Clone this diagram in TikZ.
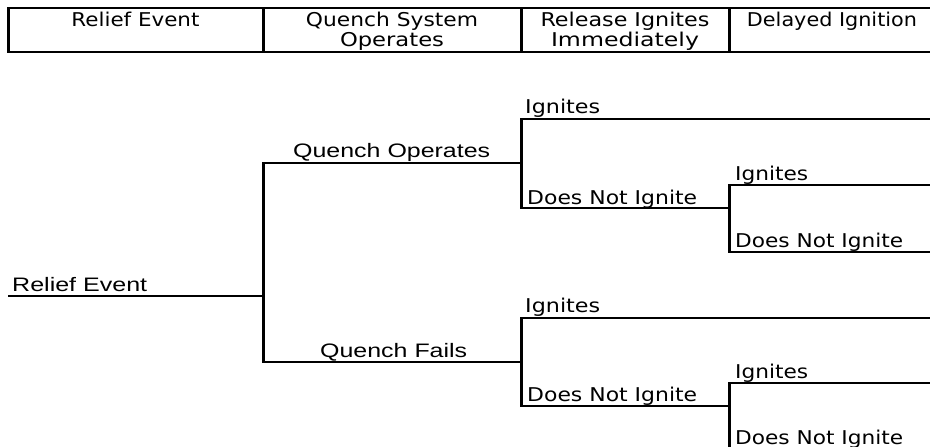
\documentclass[tikz,border=0pt]{standalone}
\usepackage{fontspec}
\setmainfont{Liberation Sans}
\newfontfamily\dvfont{DejaVu Sans}
\newcommand\tw[2]{\resizebox{#1}{\height}{#2}}
\begin{document}
\begin{tikzpicture}[x=1pt,y=-1pt,
  hl/.style={line width=2pt,line cap=rect},
  vl/.style={line width=3pt},
  hdr/.style={inner sep=0pt,anchor=base,font=\dvfont\fontsize{19}{22}\selectfont},
  lbA/.style={inner sep=0pt,anchor=base west,font=\fontsize{19.5}{22}\selectfont},
  lbV/.style={inner sep=0pt,anchor=base west,font=\dvfont\fontsize{19}{22}\selectfont}]
\useasboundingbox (0,0) rectangle (930,447);
\clip (0,0) rectangle (930,447);
% header table
\coordinate (t0) at (8,8);   \coordinate (b0) at (8,52);
\coordinate (t1) at (263,8); \coordinate (b1) at (263,52);
\coordinate (t2) at (521,8); \coordinate (b2) at (521,52);
\coordinate (t3) at (729,8); \coordinate (b3) at (729,52);
\coordinate (tE) at (930,8); \coordinate (bE) at (930,52);
\draw[hl] (t0) -- (tE);
\draw[hl] (b0) -- (bE);
\draw[vl] (t0) -- (b0);
\draw[vl] (t1) -- (b1);
\draw[vl] (t2) -- (b2);
\draw[vl] (t3) -- (b3);
\node[hdr] (h1) at (135.5,27) {\tw{128pt}{Relief Event}};
\node[hdr] (h2a) at (392,27) {\tw{172pt}{Quench System}};
\node[hdr] (h2b) at (392,46) {\tw{104pt}{Operates}};
\node[hdr] (h3a) at (625,27) {\tw{169pt}{Release Ignites}};
\node[hdr] (h3b) at (625,46) {\tw{148pt}{Immediately}};
\node[hdr] (h4) at (832,27) {\tw{170pt}{Delayed Ignition}};
% tree coordinates
\coordinate (r0) at (9,296);
\coordinate (j1) at (263,296);
\coordinate (j1u) at (263,163);
\coordinate (j1d) at (263,362);
\coordinate (qo) at (521,163);
\coordinate (qf) at (521,362);
\coordinate (au) at (521,119);
\coordinate (ad) at (521,208);
\coordinate (bu) at (521,318);
\coordinate (bd) at (521,406);
\coordinate (aIe) at (930,119);
\coordinate (bIe) at (930,318);
\coordinate (aN) at (729,208);
\coordinate (bN) at (729,406);
\coordinate (cu) at (729,185);
\coordinate (cd) at (729,252);
\coordinate (du) at (729,383);
\coordinate (dd) at (729,450);
\coordinate (cue) at (930,185);
\coordinate (cde) at (930,252);
\coordinate (due) at (930,383);
\coordinate (dde) at (930,450);
% tree lines
\draw[hl] (r0) -- (j1);
\draw[vl] (j1u) -- (j1d);
\draw[hl] (j1u) -- (qo);
\draw[hl] (j1d) -- (qf);
\draw[vl] (au) -- (ad);
\draw[vl] (bu) -- (bd);
\draw[hl] (au) -- (aIe);
\draw[hl] (bu) -- (bIe);
\draw[hl] (ad) -- (aN);
\draw[hl] (bd) -- (bN);
\draw[vl] (cu) -- (cd);
\draw[vl] (du) -- (dd);
\draw[hl] (cu) -- (cue);
\draw[hl] (cd) -- (cde);
\draw[hl] (du) -- (due);
\draw[hl] (dd) -- (dde);
% labels
\node[lbA] (lre) at (12,291) {\tw{135pt}{Relief Event}};
\node[lbA] (lqo) at (293,157) {\tw{197pt}{Quench Operates}};
\node[lbA] (lqf) at (320,357) {\tw{147pt}{Quench Fails}};
\node[lbV] (l1) at (525,113) {\tw{75pt}{Ignites}};
\node[lbV] (l2) at (527,204) {\tw{170pt}{Does Not Ignite}};
\node[lbV] (l3) at (735,180) {\tw{73pt}{Ignites}};
\node[lbV] (l4) at (735,247) {\tw{168pt}{Does Not Ignite}};
\node[lbV] (l5) at (525,312) {\tw{75pt}{Ignites}};
\node[lbV] (l6) at (527,401) {\tw{170pt}{Does Not Ignite}};
\node[lbV] (l7) at (735,378) {\tw{73pt}{Ignites}};
\node[lbV] (l8) at (735,444) {\tw{168pt}{Does Not Ignite}};
\end{tikzpicture}
\end{document}
